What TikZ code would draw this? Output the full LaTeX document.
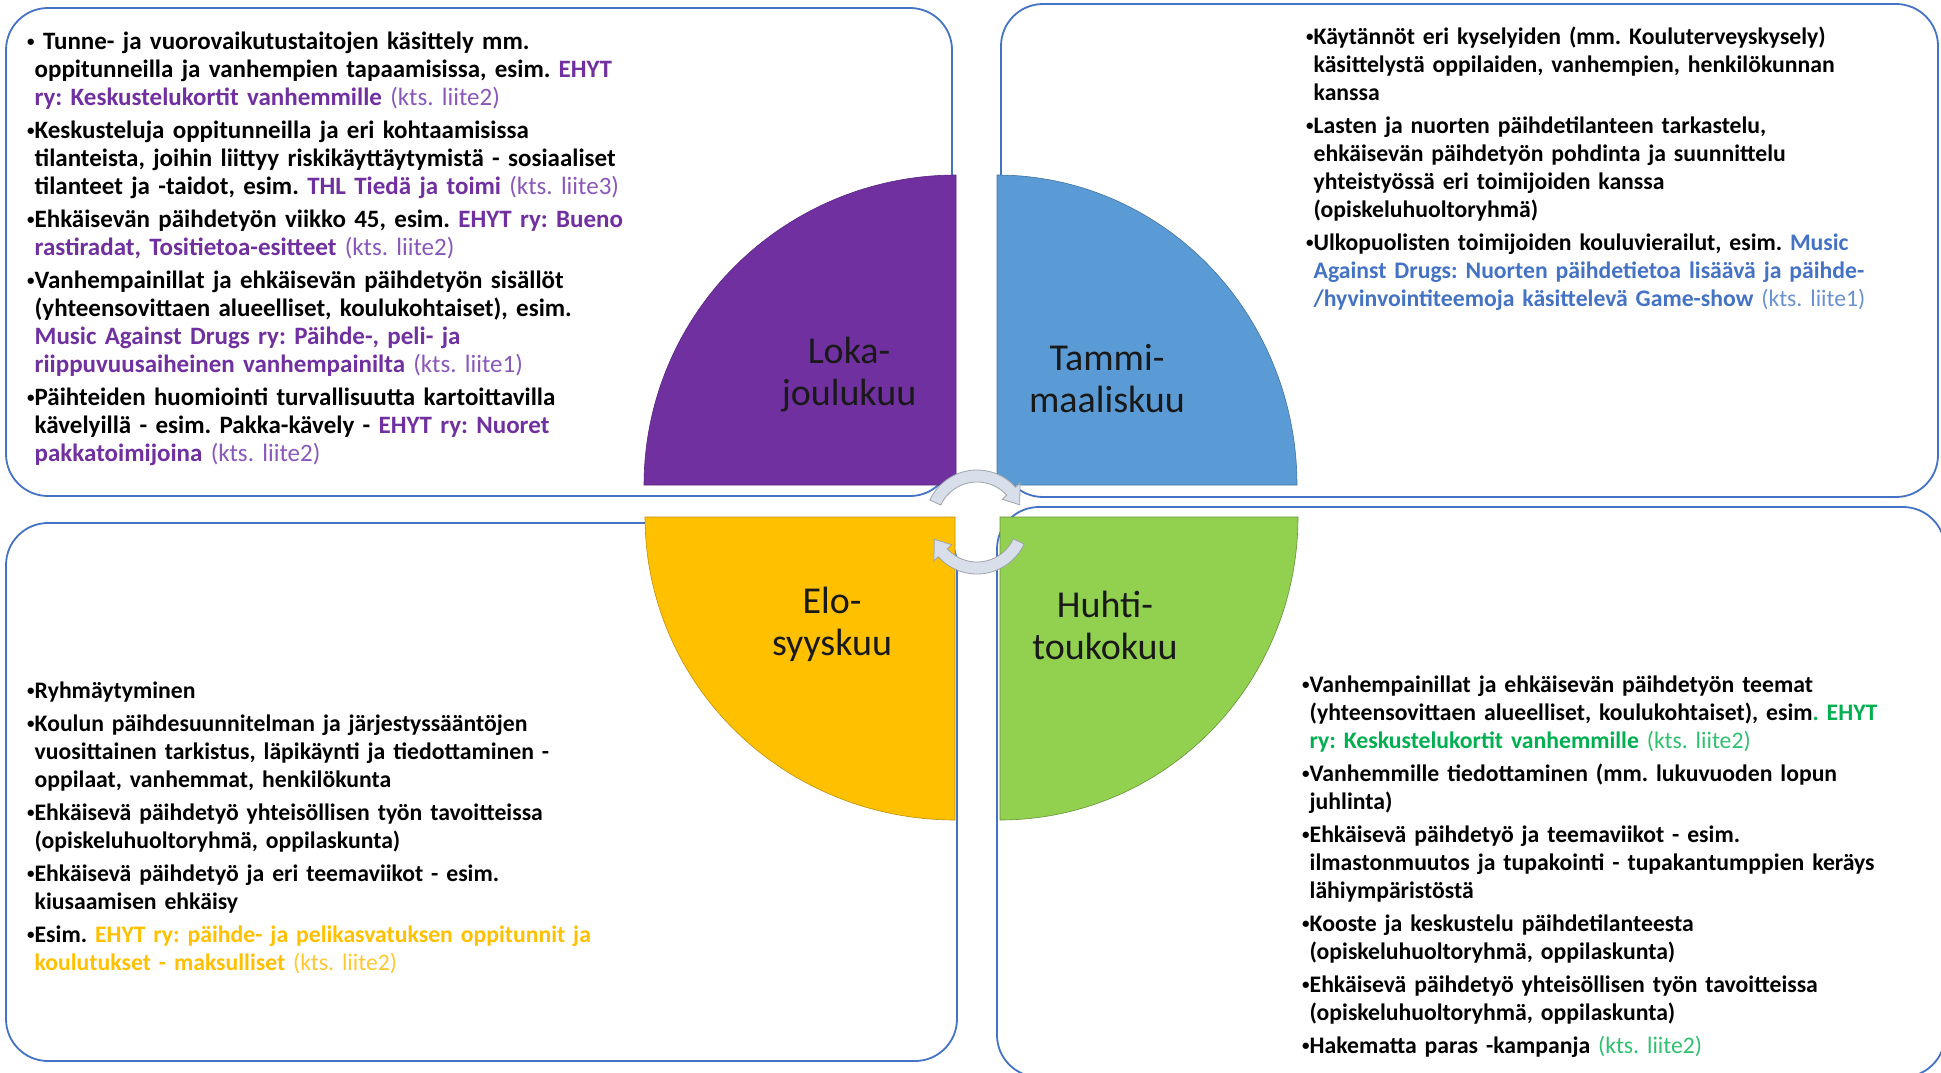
\documentclass[tikz,border=0pt]{standalone}
\usepackage{fontspec}
\setmainfont{Carlito}
\usepackage{xcolor}
\definecolor{lineblue}{HTML}{4472C4}
\definecolor{qpurple}{HTML}{7030A0}
\definecolor{qblue}{HTML}{5B9BD5}
\definecolor{qyellow}{HTML}{FFC000}
\definecolor{qgreen}{HTML}{92D050}
\definecolor{tpurple}{HTML}{7030A0}
\definecolor{tpurplel}{HTML}{8A58BA}
\definecolor{tblue}{HTML}{4472C4}
\definecolor{tbluel}{HTML}{6A92D0}
\definecolor{tyellow}{HTML}{FFC000}
\definecolor{tyellowl}{HTML}{FFC830}
\definecolor{tgreen}{HTML}{00B050}
\definecolor{tgreenl}{HTML}{30C070}
\definecolor{arrfill}{HTML}{D9DFEA}
\definecolor{arrdraw}{HTML}{9EA3AB}
\newlength\bulw
\newcommand{\bulsym}{\raisebox{2.6pt}{\fontsize{15}{15}\selectfont •}}
\newcommand{\itm}[1]{\par\hangindent=\bulw\hangafter=1\noindent\strut\bulsym#1\par\vspace{5pt}}
\newcommand{\nl}{\newline}
\newcommand{\kts}[2]{\textcolor{#1}{\mdseries #2}}
\begin{document}
\begin{tikzpicture}[x=1pt,y=-1pt,
  boxline/.style={draw=lineblue, line width=1.8pt, rounded corners=42pt},
  body/.style={anchor=north west, inner sep=0pt, text width=900pt, align=left,
    font=\fontsize{23.7}{28}\selectfont\bfseries,
    execute at begin node={\frenchspacing\settowidth{\bulw}{\bulsym}}},
  bodybig/.style={body, font=\fontsize{25}{28}\selectfont\bfseries},
  qlabel/.style={align=center, font=\fontsize{38}{42}\selectfont, text=black!90},
  quad/.style={line width=0.6pt},
  arrowshape/.style={fill=arrfill, draw=arrdraw, line width=0.8pt}
]
\useasboundingbox (0,0) rectangle (1941,1072);
\fill[white] (0,0) rectangle (1941,1072);

% boxes
\draw[boxline] (6,8) rectangle (952,496);
\draw[boxline] (1001,4) rectangle (1938,497);
\draw[boxline] (6,523) rectangle (957,1061);
\draw[boxline] (997,507) rectangle (1945,1077);

% quadrants
\filldraw[quad, fill=qpurple, draw=qpurple!80!black] (956,485) -- plot[domain=180:270, samples=80] ({956+312*cos(\x)},{485+310*sin(\x)}) -- cycle;
\filldraw[quad, fill=qblue, draw=qblue!75!black] (997,485) -- plot[domain=270:360, samples=80] ({997+300*cos(\x)},{485+310*sin(\x)}) -- cycle;
\filldraw[quad, fill=qyellow, draw=qyellow!75!black] (955,517) -- plot[domain=90:180, samples=80] ({955+310*cos(\x)},{517+303*sin(\x)}) -- cycle;
\filldraw[quad, fill=qgreen, draw=qgreen!70!black] (1000,517) -- plot[domain=0:90, samples=80] ({1000+298*cos(\x)},{517+303*sin(\x)}) -- cycle;

% circular arrows
\filldraw[arrowshape] plot[domain=-155:-42, samples=40] ({977+52*cos(\x)},{522+52*sin(\x)})
  -- ({977+58*cos(-42)},{522+58*sin(-42)}) -- ({977+46*cos(-22)},{522+46*sin(-22)})
  -- ({977+34*cos(-42)},{522+34*sin(-42)})
  -- plot[domain=-42:-155, samples=40] ({977+40*cos(\x)},{522+40*sin(\x)}) -- cycle;
\filldraw[arrowshape] plot[domain=25:138, samples=40] ({977+52*cos(\x)},{522+52*sin(\x)})
  -- ({977+58*cos(138)},{522+58*sin(138)}) -- ({977+46*cos(158)},{522+46*sin(158)})
  -- ({977+34*cos(138)},{522+34*sin(138)})
  -- plot[domain=138:25, samples=40] ({977+40*cos(\x)},{522+40*sin(\x)}) -- cycle;

% quadrant labels
\node[qlabel] (lq) at (849,375) {Loka-\\joulukuu};
\node[qlabel] (tq) at (1107,379) {Tammi-\\maaliskuu};
\node[qlabel] (eq) at (832,624) {Elo-\\syyskuu};
\node[qlabel] (hq) at (1105,625) {Huhti-\\toukokuu};

% texts
\node[bodybig] (tltext) at (27,21) {%
\itm{\ Tunne- ja vuorovaikutustaitojen käsittely mm.\nl oppitunneilla ja vanhempien tapaamisissa, esim. \textcolor{tpurple}{EHYT\nl ry: Keskustelukortit vanhemmille} \kts{tpurplel}{(kts. liite2)}}
\itm{Keskusteluja oppitunneilla ja eri kohtaamisissa\nl tilanteista, joihin liittyy riskikäyttäytymistä - sosiaaliset\nl tilanteet ja -taidot, esim. \textcolor{tpurple}{THL Tiedä ja toimi} \kts{tpurplel}{(kts. liite3)}}
\itm{Ehkäisevän päihdetyön viikko 45, esim. \textcolor{tpurple}{EHYT ry: Bueno\nl rastiradat, Tositietoa-esitteet} \kts{tpurplel}{(kts. liite2)}}
\itm{Vanhempainillat ja ehkäisevän päihdetyön sisällöt\nl (yhteensovittaen alueelliset, koulukohtaiset), esim.\nl \textcolor{tpurple}{Music Against Drugs ry: Päihde-, peli- ja\nl riippuvuusaiheinen vanhempainilta} \kts{tpurplel}{(kts. liite1)}}
\itm{Päihteiden huomiointi turvallisuutta kartoittavilla\nl kävelyillä - esim. Pakka-kävely - \textcolor{tpurple}{EHYT ry: Nuoret\nl pakkatoimijoina} \kts{tpurplel}{(kts. liite2)}}
};

\node[body] (trtext) at (1306,16) {%
\itm{Käytännöt eri kyselyiden (mm. Kouluterveyskysely)\nl käsittelystä oppilaiden, vanhempien, henkilökunnan\nl kanssa}
\itm{Lasten ja nuorten päihdetilanteen tarkastelu,\nl ehkäisevän päihdetyön pohdinta ja suunnittelu\nl yhteistyössä eri toimijoiden kanssa\nl (opiskeluhuoltoryhmä)}
\itm{Ulkopuolisten toimijoiden kouluvierailut, esim. \textcolor{tblue}{Music\nl Against Drugs: Nuorten päihdetietoa lisäävä ja päihde-\nl /hyvinvointiteemoja käsittelevä Game-show} \kts{tbluel}{(kts. liite1)}}
};

\node[body] (bltext) at (27,670) {%
\itm{Ryhmäytyminen}
\itm{Koulun päihdesuunnitelman ja järjestyssääntöjen\nl vuosittainen tarkistus, läpikäynti ja tiedottaminen -\nl oppilaat, vanhemmat, henkilökunta}
\itm{Ehkäisevä päihdetyö yhteisöllisen työn tavoitteissa\nl (opiskeluhuoltoryhmä, oppilaskunta)}
\itm{Ehkäisevä päihdetyö ja eri teemaviikot - esim.\nl kiusaamisen ehkäisy}
\itm{Esim. \textcolor{tyellow}{EHYT ry: päihde- ja pelikasvatuksen oppitunnit ja\nl koulutukset - maksulliset} \kts{tyellowl}{(kts. liite2)}}
};

\node[body] (brtext) at (1302,664) {%
\itm{Vanhempainillat ja ehkäisevän päihdetyön teemat\nl (yhteensovittaen alueelliset, koulukohtaiset), esim\textcolor{tgreen}{. EHYT\nl ry: Keskustelukortit vanhemmille} \kts{tgreenl}{(kts. liite2)}}
\itm{Vanhemmille tiedottaminen (mm. lukuvuoden lopun\nl juhlinta)}
\itm{Ehkäisevä päihdetyö ja teemaviikot - esim.\nl ilmastonmuutos ja tupakointi - tupakantumppien keräys\nl lähiympäristöstä}
\itm{Kooste ja keskustelu päihdetilanteesta\nl (opiskeluhuoltoryhmä, oppilaskunta)}
\itm{Ehkäisevä päihdetyö yhteisöllisen työn tavoitteissa\nl (opiskeluhuoltoryhmä, oppilaskunta)}
\itm{Hakematta paras -kampanja \kts{tgreenl}{(kts. liite2)}}
};
\end{tikzpicture}
\end{document}
